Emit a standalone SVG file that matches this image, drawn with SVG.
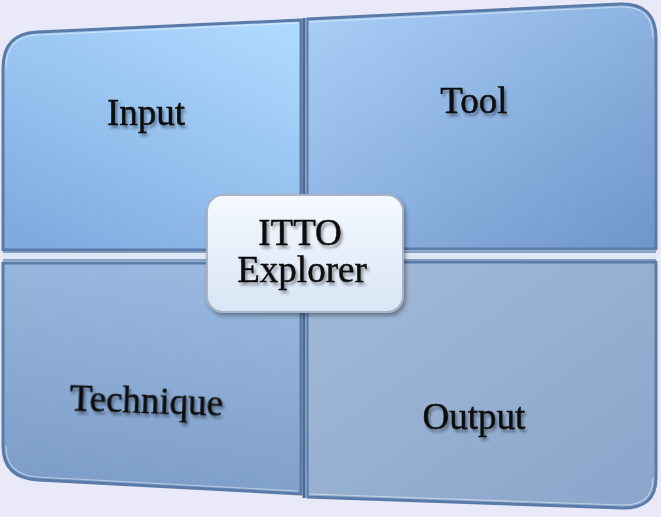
<svg xmlns="http://www.w3.org/2000/svg" width="661" height="517" viewBox="0 0 661 517">
  <defs>
    <linearGradient id="gTL" x1="0.8" y1="0" x2="0.2" y2="1">
      <stop offset="0" stop-color="#AFD8FF"/>
      <stop offset="1" stop-color="#7FABDF"/>
    </linearGradient>
    <linearGradient id="gTR" x1="0" y1="0" x2="1" y2="1">
      <stop offset="0" stop-color="#AACFF8"/>
      <stop offset="1" stop-color="#6F96C9"/>
    </linearGradient>
    <linearGradient id="gBL" x1="0.5" y1="0" x2="0.3" y2="1">
      <stop offset="0" stop-color="#98B8DE"/>
      <stop offset="1" stop-color="#7C9DC8"/>
    </linearGradient>
    <linearGradient id="gBR" x1="0" y1="0" x2="1" y2="1">
      <stop offset="0" stop-color="#A2BAD8"/>
      <stop offset="1" stop-color="#8AA5CA"/>
    </linearGradient>
    <linearGradient id="gBox" x1="0" y1="0" x2="0" y2="1">
      <stop offset="0" stop-color="#F5F9FF"/>
      <stop offset="1" stop-color="#D9E5F5"/>
    </linearGradient>
    <filter id="tshadow" x="-20%" y="-30%" width="140%" height="160%">
      <feGaussianBlur in="SourceAlpha" stdDeviation="1.5"/>
      <feOffset dx="2" dy="3" result="b"/>
      <feComponentTransfer><feFuncA type="linear" slope="0.4"/></feComponentTransfer>
      <feMerge><feMergeNode/><feMergeNode in="SourceGraphic"/></feMerge>
    </filter>
    <filter id="bshadow" x="-10%" y="-10%" width="120%" height="130%">
      <feGaussianBlur in="SourceAlpha" stdDeviation="2"/>
      <feOffset dx="2" dy="3"/>
      <feComponentTransfer><feFuncA type="linear" slope="0.35"/></feComponentTransfer>
      <feMerge><feMergeNode/><feMergeNode in="SourceGraphic"/></feMerge>
    </filter>
  </defs>
  <style>
    .quad { stroke: #5A7BA8; stroke-width: 3; stroke-linejoin: round; }
    .hl { fill: none; stroke: #FFFFFF; stroke-opacity: 0.45; stroke-width: 1.2; }
    .lbl { font-family: "Liberation Serif", "DejaVu Serif", serif; font-size: 37px; fill: #0A0A0A; stroke: #0A0A0A; stroke-width: 0.4; text-anchor: middle; filter: url(#tshadow); }
  </style>
  <rect x="0" y="0" width="661" height="517" fill="#E9E9FA"/>

  <g id="input">
    <path class="quad" fill="url(#gTL)" d="M3,68 Q3,33 38,32 L301,20 L301,250 L3,250 Z"/>
    <path class="hl" d="M6,68 Q6,36 38,35 L298,23"/>
    <text class="lbl" x="146" y="125">Input</text>
  </g>

  <g id="tool">
    <path class="quad" fill="url(#gTR)" d="M307,19 L620,4 Q656,3 656,38 L656,249 L307,249 Z"/>
    <path class="hl" d="M310,22 L620,7 Q653,6 653,38"/>
    <text class="lbl" x="474" y="113">Tool</text>
  </g>

  <g id="technique">
    <path class="quad" fill="url(#gBL)" d="M3,263 L301,263 L301,494 L38,480 Q3,478 3,446 Z"/>
    <path class="hl" d="M6,446 Q6,475 38,477 L298,491"/>
    <text class="lbl" x="146" y="413" transform="rotate(2 146 413)">Technique</text>
  </g>

  <g id="output">
    <path class="quad" fill="url(#gBR)" d="M307,262 L656,262 L656,478 Q656,509 622,508 L307,497 Z"/>
    <path class="hl" d="M310,494 L622,505 Q653,506 653,478"/>
    <text class="lbl" x="474" y="429">Output</text>
  </g>

  <g id="connectors">
    <line x1="304" y1="18" x2="304" y2="498" stroke="#4A6890" stroke-width="3"/>
    <line x1="306" y1="18" x2="306" y2="498" stroke="#9DB8DA" stroke-width="1"/>
    <line x1="3" y1="256" x2="656" y2="256" stroke="#DDE7F5" stroke-width="9"/>
    <line x1="3" y1="252" x2="656" y2="252" stroke="#6A88B2" stroke-width="1.5"/>
    <line x1="3" y1="260" x2="656" y2="260" stroke="#6A88B2" stroke-width="1.5"/>
  </g>

  <g id="itto-explorer">
    <rect x="207" y="195" width="196" height="117" rx="16" ry="16" fill="url(#gBox)" stroke="#A8B4C6" stroke-width="2" filter="url(#bshadow)"/>
    <text class="lbl" x="300" y="245">ITTO</text>
    <text class="lbl" x="302" y="282">Explorer</text>
  </g>
</svg>
